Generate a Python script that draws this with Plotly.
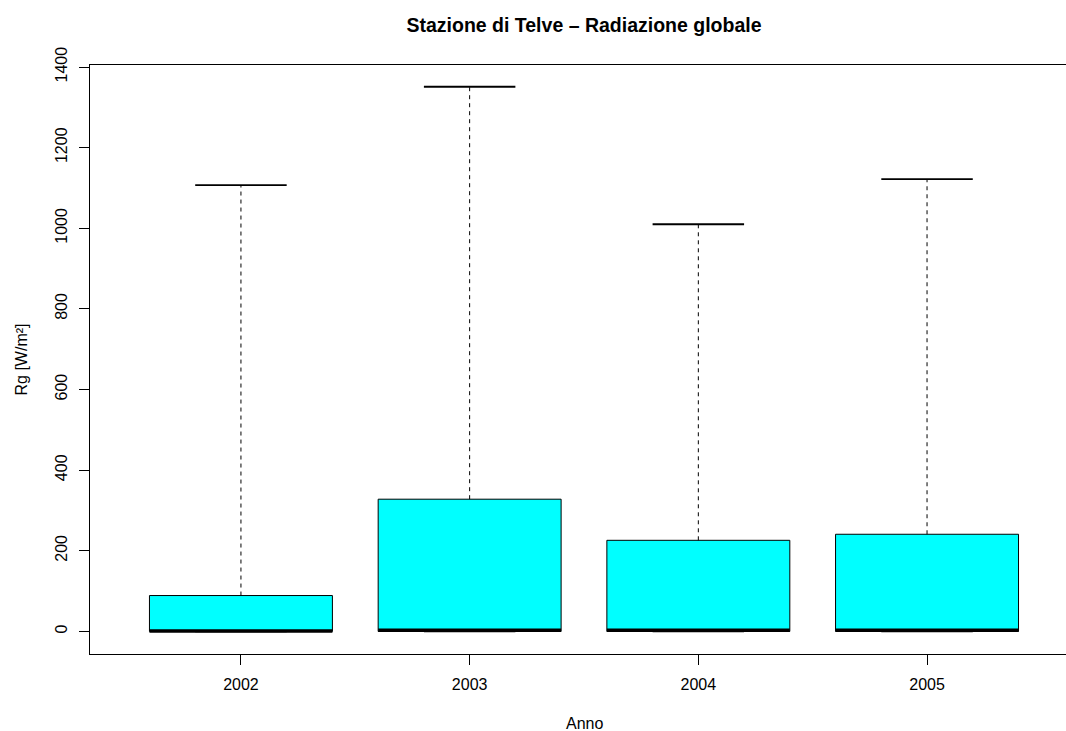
import plotly.graph_objects as go

# Data
years = ["2002", "2003", "2004", "2005"]
positions = [1, 2, 3, 4]
lower_whisker = [0, 0, 0, 0]
q1 = [0, 0, 0, 0]
median = [1, 3, 3, 3]
q3 = [89, 328, 226, 241]
upper_whisker = [1107, 1351, 1010, 1122]
y_ticks = [0, 200, 400, 600, 800, 1000, 1200, 1400]

box_width = 0.8
cap_width = 0.4
box_color = "#00FFFF"
font_family = "Liberation Sans, Arial, Helvetica, sans-serif"

FIG_W = 1080  # plot region extends slightly past the 1066px window, as in the reference

fig = go.Figure()

# Boxes (Q1 -> Q3)
fig.add_trace(go.Bar(
    x=positions,
    y=[b - a for a, b in zip(q1, q3)],
    base=q1,
    width=box_width,
    marker=dict(color=box_color, line=dict(color="black", width=1)),
    hoverinfo="skip",
    showlegend=False,
))

# Whiskers (dashed), caps, medians
for p, lo, a, m, b, hi in zip(positions, lower_whisker, q1, median, q3, upper_whisker):
    fig.add_trace(go.Scatter(x=[p, p], y=[b, hi], mode="lines",
                             line=dict(color="black", width=1, dash="4px,4px"),
                             showlegend=False, hoverinfo="skip"))
    fig.add_trace(go.Scatter(x=[p, p], y=[lo, a], mode="lines",
                             line=dict(color="black", width=1, dash="4px,4px"),
                             showlegend=False, hoverinfo="skip"))
    fig.add_trace(go.Scatter(x=[p - cap_width / 2, p + cap_width / 2], y=[hi, hi], mode="lines",
                             line=dict(color="black", width=1.8),
                             showlegend=False, hoverinfo="skip"))
    fig.add_trace(go.Scatter(x=[p - cap_width / 2, p + cap_width / 2], y=[lo, lo], mode="lines",
                             line=dict(color="black", width=1.8),
                             showlegend=False, hoverinfo="skip"))
    fig.add_trace(go.Scatter(x=[p - box_width / 2, p + box_width / 2], y=[m, m], mode="lines",
                             line=dict(color="black", width=3.5),
                             showlegend=False, hoverinfo="skip"))

plot_w = FIG_W - 90
center_px = 584

fig.update_layout(
    width=FIG_W, height=731,
    margin=dict(l=90, r=0, t=65, b=77, pad=0),
    paper_bgcolor="white", plot_bgcolor="white",
    font=dict(family=font_family, size=16, color="black"),
    title=dict(text="<b>Stazione di Telve – Radiazione globale</b>",
               x=center_px / FIG_W, xanchor="center", y=1 - 25 / 731, yanchor="middle",
               xref="container", yref="container",
               font=dict(size=19.5, family=font_family, color="black")),
    xaxis=dict(range=[0.34, 0.34 + plot_w / 228.7], tickvals=positions, ticktext=years,
               showgrid=False, zeroline=False, showline=True, linecolor="black", linewidth=1,
               mirror=True, ticks="outside", ticklen=10, tickcolor="black",
               tickfont=dict(size=16), ticklabelstandoff=6),
    yaxis=dict(range=[-56, 1405], tickvals=y_ticks,
               showgrid=False, zeroline=False, showline=True, linecolor="black", linewidth=1,
               mirror=False, ticks="outside", ticklen=10, tickcolor="black",
               tickangle=-90, tickfont=dict(size=16), ticklabelstandoff=6),
    annotations=[
        dict(text="Anno", xref="paper", yref="paper", x=(center_px - 90) / plot_w, y=0,
             yshift=-(723 - 654), xanchor="center", yanchor="middle", showarrow=False,
             font=dict(size=16)),
        dict(text="Rg [W/m²]", xref="paper", yref="paper", x=0, y=0.5,
             xshift=-(90 - 21), xanchor="center", yanchor="middle", textangle=-90,
             showarrow=False, font=dict(size=16)),
    ],
)

fig.write_html("out.html", config={"displayModeBar": False},
               post_script="document.body.style.margin='0';document.body.style.overflow='hidden';")
